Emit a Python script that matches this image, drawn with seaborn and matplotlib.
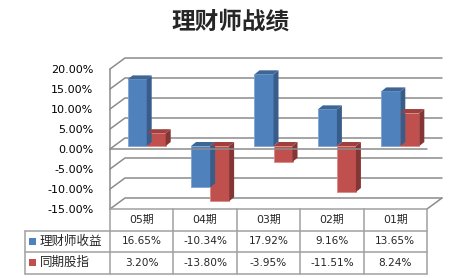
import numpy as np
import pandas as pd
import matplotlib
matplotlib.use("Agg")
import matplotlib.pyplot as plt
import seaborn as sns
from matplotlib.patches import Polygon, Rectangle
from matplotlib.lines import Line2D
from matplotlib.transforms import IdentityTransform, ScaledTranslation

# ---- data ----
title = "理财师战绩"
periods = ["05期", "04期", "03期", "02期", "01期"]
series = ["理财师收益", "同期股指"]
planner = [16.65, -10.34, 17.92, 9.16, 13.65]
index_vals = [3.20, -13.80, -3.95, -11.51, 8.24]
yticks = [-15, -10, -5, 0, 5, 10, 15, 20]

front_cols = ["#4F81BD", "#C0504D"]
side_cols = ["#385D8A", "#843634"]
top_cols = ["#3D6596", "#9E403D"]
edge_cols = ["#7EA3D2", "#D88A88"]

df = pd.DataFrame({
    "period": periods * 2,
    "series": [series[0]] * len(periods) + [series[1]] * len(periods),
    "value": planner + index_vals,
})

sns.set_theme(style="white")
plt.rcParams["font.family"] = ["DejaVu Sans", "Noto Sans CJK SC"]

W, H = 464, 278
fig = plt.figure(figsize=(W / 100, H / 100), dpi=100)
fig.patch.set_facecolor("white")
ax = fig.add_axes([110 / W, 1 - 209 / H, 317 / W, 140 / H])
ax.set_facecolor("none")

sns.barplot(data=df, x="period", y="value", hue="series", order=periods,
            hue_order=series, palette=front_cols, width=0.6, saturation=1,
            ax=ax, legend=False, zorder=3)
ax.set_xlim(-0.5, 4.5)
ax.set_ylim(-15, 20)
for s in ax.spines.values():
    s.set_visible(False)
ax.set_xticks([])
ax.set_xlabel("")
ax.set_ylabel("")
ax.set_yticks(yticks)
ax.set_yticklabels([f"{v:.2f}%" for v in yticks], fontsize=8, color="black")
ax.tick_params(axis="y", length=0, pad=12)

ID = IdentityTransform()
grid_c = "#8C8C8C"
# back-wall depth in pixels
DX, DY = 15, 11
xl_f = ax.transData.transform((-0.5, 0))[0]
xr_f = ax.transData.transform((4.5, 0))[0]

def ydisp(v):
    return ax.transData.transform((0, v))[1]

for v in yticks:
    yf = ydisp(v)
    fig.add_artist(Line2D([xl_f, xl_f + DX, xr_f + DX], [yf, yf + DY, yf + DY],
                          transform=ID, color=grid_c, lw=1.1, zorder=0))
# left front edge
fig.add_artist(Line2D([xl_f, xl_f], [ydisp(-15), ydisp(20)], transform=ID,
                      color=grid_c, lw=1.1, zorder=0))
# floor right slant
fig.add_artist(Line2D([xr_f, xr_f + DX], [ydisp(-15), ydisp(-15) + DY], transform=ID,
                      color=grid_c, lw=1.1, zorder=0))

# ---- pseudo 3D bars ----
BX, BY = 5, 3      # bar offset from front plane
dx, dy = 5, 4      # bar depth
off = ScaledTranslation(BX / 100, BY / 100, fig.dpi_scale_trans)
for k, cont in enumerate(ax.containers):
    for p in cont.patches:
        z = 3 + k
        p.set_transform(ax.transData + off)
        p.set_clip_on(False)
        p.set_zorder(z)
        p.set_edgecolor(edge_cols[k])
        p.set_linewidth(0.6)
        x0, y0 = p.get_x(), p.get_y()
        x1, y1 = x0 + p.get_width(), y0 + p.get_height()
        (a0, b0), (a1, b1) = ax.transData.transform([[x0, y0], [x1, y1]])
        a0 += BX; a1 += BX; b0 += BY; b1 += BY
        lo, hi = min(b0, b1), max(b0, b1)
        side = Polygon([[a1, lo], [a1, hi], [a1 + dx, hi + dy], [a1 + dx, lo + dy]],
                       closed=True, transform=ID, facecolor=side_cols[k],
                       edgecolor="none", zorder=z)
        top = Polygon([[a0, hi], [a1, hi], [a1 + dx, hi + dy], [a0 + dx, hi + dy]],
                      closed=True, transform=ID, facecolor=top_cols[k],
                      edgecolor="none", zorder=z)
        fig.add_artist(side)
        fig.add_artist(top)

# zero line at front
y0f = ydisp(0)
fig.add_artist(Line2D([xl_f, xr_f], [y0f, y0f], transform=ID, color=grid_c,
                      lw=1.1, zorder=6))

# ---- title ----
fig.text(230 / W, 1 - 22 / H, title, ha="center", va="center", fontsize=17,
         fontweight="bold", family=["Noto Sans CJK SC"])

# ---- data table ----
tab_c = "#A0A0A0"
edges = [ax.transData.transform((i - 0.5, 0))[0] for i in range(len(periods) + 1)]
ytop = ydisp(-15)
rowh = 21.5
y_rows = [ytop, ytop - rowh, ytop - 2 * rowh, ytop - 3 * rowh]
xlab = 25
# horizontal lines
fig.add_artist(Line2D([edges[0], edges[-1]], [y_rows[0]] * 2, transform=ID, color=tab_c, lw=1.1))
for yy in y_rows[1:]:
    fig.add_artist(Line2D([xlab, edges[-1]], [yy] * 2, transform=ID, color=tab_c, lw=1.1))
for xx in edges:
    fig.add_artist(Line2D([xx, xx], [y_rows[0], y_rows[3]], transform=ID, color=tab_c, lw=1.1))
fig.add_artist(Line2D([xlab, xlab], [y_rows[1], y_rows[3]], transform=ID, color=tab_c, lw=1.1))

for i, per in enumerate(periods):
    cx = (edges[i] + edges[i + 1]) / 2
    fig.text(cx / W, ((y_rows[0] + y_rows[1]) / 2) / H, per, ha="center", va="center",
             fontsize=7.8)
    for r, vals in enumerate([planner, index_vals]):
        fig.text(cx / W, ((y_rows[r + 1] + y_rows[r + 2]) / 2) / H, f"{vals[i]:.2f}%",
                 ha="center", va="center", fontsize=7.6)

for r, name in enumerate(series):
    yc = (y_rows[r + 1] + y_rows[r + 2]) / 2
    fig.add_artist(Rectangle((29, yc - 3.5), 7, 7, transform=ID,
                             facecolor=front_cols[r], edgecolor="none"))
    fig.text(40 / W, yc / H, name, ha="left", va="center", fontsize=9,
             family=["Noto Sans CJK SC"])

fig.savefig("out.png", dpi=100)
